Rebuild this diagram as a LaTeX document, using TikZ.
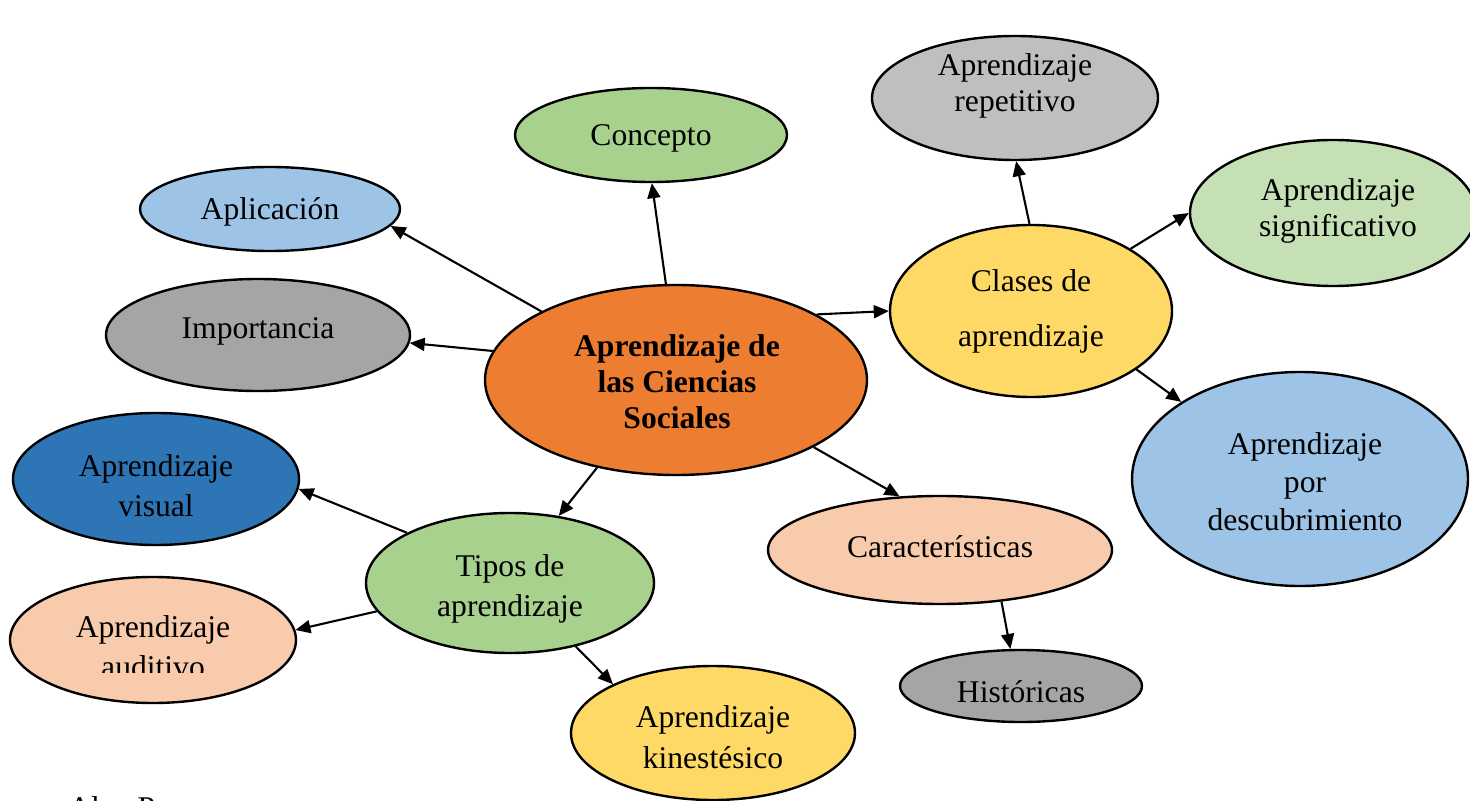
\documentclass[tikz,border=0pt]{standalone}
\usepackage{fontspec}
\setmainfont{Liberation Serif}
\usetikzlibrary{shapes.geometric,arrows.meta}
\definecolor{corange}{HTML}{ED7D31}
\definecolor{cgreen}{HTML}{A9D18E}
\definecolor{clblue}{HTML}{9DC3E6}
\definecolor{cgray}{HTML}{A5A5A5}
\definecolor{cblue}{HTML}{2E75B6}
\definecolor{cpeach}{HTML}{F8CBAD}
\definecolor{cyellow}{HTML}{FFD966}
\definecolor{clgray}{HTML}{BFBFBF}
\definecolor{clgreen}{HTML}{C5E0B4}
\begin{document}
\begin{tikzpicture}[x=0.5pt,y=-0.5pt,
  bub/.style={ellipse,draw=black,line width=1.2pt,inner sep=0pt},
  txt/.style={align=center,font=\fontsize{15.8}{18.5}\selectfont,inner sep=0pt},
  conn/.style={line width=1.05pt,-{Triangle[length=7.5pt,width=6.5pt]}}]
\useasboundingbox (0,0) rectangle (1470,801);
% ellipses
\node[bub,fill=corange,minimum width=191pt,minimum height=95pt] (c) at (676,380) {};
\node[bub,fill=cgreen,minimum width=136pt,minimum height=47pt] (concepto) at (651,135) {};
\node[bub,fill=clblue,minimum width=130pt,minimum height=42pt] (aplic) at (270,209) {};
\node[bub,fill=cgray,minimum width=152pt,minimum height=56pt] (import) at (258,335) {};
\node[bub,fill=cblue,minimum width=143pt,minimum height=66pt] (visual) at (156,479) {};
\node[bub,fill=cgreen,minimum width=144pt,minimum height=70pt] (tipos) at (510,583) {};
\node[bub,fill=cpeach,minimum width=143pt,minimum height=63pt] (auditivo) at (153,640) {};
\node[bub,fill=cyellow,minimum width=142pt,minimum height=67pt] (kinest) at (713,733) {};
\node[bub,fill=cpeach,minimum width=172pt,minimum height=54pt] (caract) at (940,550) {};
\node[bub,fill=cgray,minimum width=121pt,minimum height=36pt] (hist) at (1021,686) {};
\node[bub,fill=cyellow,minimum width=141pt,minimum height=86pt] (clases) at (1031,311) {};
\node[bub,fill=clgray,minimum width=143pt,minimum height=62pt] (repet) at (1015,98) {};
\node[bub,fill=clgreen,minimum width=143pt,minimum height=73pt] (signif) at (1333,213) {};
\node[bub,fill=clblue,minimum width=168pt,minimum height=107pt] (descub) at (1300,479) {};
% texts
\node[txt,font=\fontsize{15.8}{18}\selectfont\bfseries] (c-t) at (677,382) {Aprendizaje de\\las Ciencias\\Sociales};
\node[txt] (concepto-t) at (651,138) {Concepto};
\node[txt] (aplic-t) at (270,212) {Aplicación};
\node[txt] (import-t) at (258,331) {Importancia};
\node[txt,font=\fontsize{15.8}{20}\selectfont] (visual-t) at (156,486) {Aprendizaje\\visual};
\node[txt,font=\fontsize{15.8}{20}\selectfont] (tipos-t) at (510,589) {Tipos de\\aprendizaje};
\begin{scope}
\clip (0,0) rectangle (1470,672);
\node[txt,font=\fontsize{15.8}{20}\selectfont] (auditivo-t) at (153,647) {Aprendizaje\\auditivo};
\end{scope}
\node[txt,font=\fontsize{15.8}{20.5}\selectfont] (kinest-t) at (713,737) {Aprendizaje\\kinestésico};
\node[txt] (caract-t) at (940,547) {Características};
\node[txt] (hist-t) at (1021,692) {Históricas};
\node[txt,font=\fontsize{15.8}{27.5}\selectfont] (clases-t) at (1031,311) {Clases de\\aprendizaje};
\node[txt,font=\fontsize{15.8}{18}\selectfont] (repet-t) at (1015,86) {Aprendizaje\\repetitivo};
\node[txt,font=\fontsize{15.8}{18}\selectfont] (signif-t) at (1338,211) {Aprendizaje\\significativo};
\node[txt,font=\fontsize{15.8}{19}\selectfont] (descub-t) at (1305,482) {Aprendizaje\\por\\descubrimiento};
\begin{scope}
\clip (0,0) rectangle (1470,801);
\node[txt,anchor=base west] (autor) at (68,818) {Alex P};
\end{scope}
% connectors
\draw[conn] (c.96) -- (concepto.-89);
\draw[conn] (c.153) -- (aplic.-8);
\draw[conn] (c.171) -- (import.-3);
\draw[conn] (c.228) -- (tipos.54);
\draw[conn] (c.-26) -- (caract.127);
\draw[conn] (c.25) -- (clases.180);
\draw[conn] (clases.91) -- (repet.-89);
\draw[conn] (clases.32) -- (signif.180);
\draw[conn] (clases.-29) -- (descub.147);
\draw[conn] (tipos.154) -- (visual.-4);
\draw[conn] (tipos.192) -- (auditivo.4);
\draw[conn] (tipos.-44) -- (kinest.154);
\draw[conn] (caract.-40) -- (hist.106);
\end{tikzpicture}
\end{document}
